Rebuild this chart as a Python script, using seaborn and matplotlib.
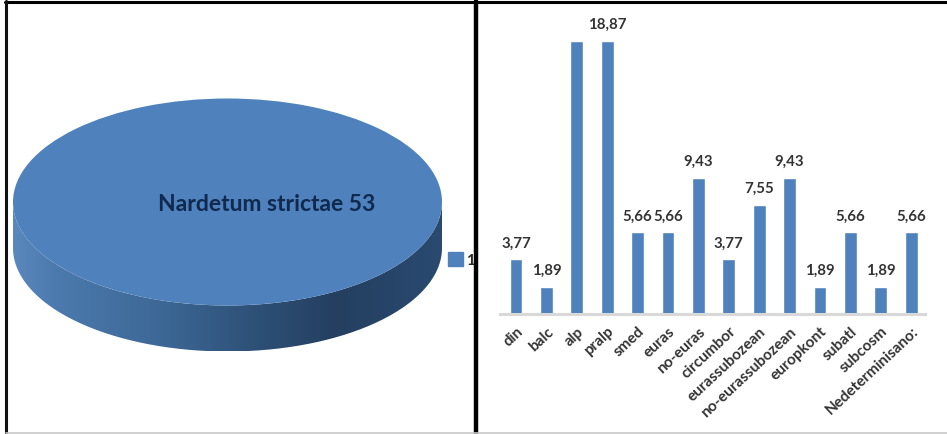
import numpy as np
import matplotlib
matplotlib.use("Agg")
import matplotlib.pyplot as plt
from matplotlib.patches import Rectangle, PathPatch
from matplotlib.path import Path
from matplotlib.colors import LinearSegmentedColormap
from matplotlib.lines import Line2D
import seaborn as sns

categories = ["din", "balc", "alp", "pralp", "smed", "euras", "no-euras", "circumbor",
              "eurassubozean", "no-eurassubozean", "europkont", "subatl", "subcosm",
              "Nedeterminisano:"]
percent = [3.77, 1.89, 18.87, 18.87, 5.66, 5.66, 9.43, 3.77, 7.55, 9.43, 1.89, 5.66, 1.89, 5.66]
value_labels = ["3,77", "1,89", "", "18,87", "5,66", "5,66", "9,43", "3,77", "7,55", "9,43",
                "1,89", "5,66", "1,89", "5,66"]
pie_values = [53]
pie_label = "Nardetum strictae 53"
legend_labels = ["1"]

sns.set_theme(style="white")
plt.rcParams["font.family"] = ["Lato", "DejaVu Sans"]

W, H = 947, 435
BLUE = "#4f81bd"
fig = plt.figure(figsize=(W / 100, H / 100), dpi=100, facecolor="white")

def panel(x0, y0, x1, y1, **kw):
    return fig.add_axes([x0 / W, 1 - y1 / H, (x1 - x0) / W, (y1 - y0) / H], **kw)

# ---- left panel: 3-D looking pie
PX0, PX1, PY0, PY1 = 7, 476, 3, 433
CX, CY, RX, RY = 227.5, 203, 214.5, 103.5
DEPTH = 46 / RY
axp = panel(PX0, PY0, PX1, PY1)
wedges, _ = axp.pie(pie_values, colors=[BLUE], radius=1, startangle=90,
                    wedgeprops=dict(linewidth=0, zorder=3))
axp.set_aspect("auto")
axp.set_xlim((PX0 - CX) / RX, (PX1 - CX) / RX)
axp.set_ylim((CY - PY1) / RY, (CY - PY0) / RY)

t = np.linspace(np.pi, 2 * np.pi, 200)
side_x = np.r_[np.cos(t), np.cos(t[::-1])]
side_y = np.r_[np.sin(t) - DEPTH, np.sin(t[::-1])]
side = PathPatch(Path(np.c_[side_x, side_y]), facecolor="none", edgecolor="none")
axp.add_patch(side)
cmap = LinearSegmentedColormap.from_list(
    "side", [(0, "#5a88bd"), (0.1, "#4c7aae"), (0.35, "#3c6795"), (0.55, "#2f5279"),
             (0.75, "#243f60"), (1, "#2a4a70")])
xlim, ylim = axp.get_xlim(), axp.get_ylim()
img = axp.imshow(np.linspace(0, 1, 256)[None, :], cmap=cmap, extent=(-1, 1, -1 - DEPTH, 0.2),
                 aspect="auto", zorder=2, interpolation="bilinear")
img.set_clip_path(side)
axp.set_xlim(xlim)
axp.set_ylim(ylim)
axp.text(((157 + 377) / 2 - CX) / RX, -0.01, pie_label, ha="center", va="center",
         fontsize=16.5, fontweight="bold", color="#10294f", zorder=5)
leg = axp.legend(handles=[Rectangle((0, 0), 1, 1, color=BLUE)], labels=legend_labels,
                 loc="center left", bbox_to_anchor=((445 - PX0) / (PX1 - PX0), 1 - (260.5 - PY0) / (PY1 - PY0)),
                 frameon=False, handlelength=1.0, handleheight=1.0, handletextpad=0.2,
                 borderpad=0, borderaxespad=0.2, prop=dict(weight="bold", size=11))

# ---- right panel: bar chart
QX0, QX1, QY0, QY1 = 478, 945, 4, 433
X0, STEP, Y0, SCALE = 516, 30.4, 315, 273 / 18.87
axb = panel(QX0, QY0, QX1, QY1, zorder=2)
sns.barplot(x=categories, y=percent, color=BLUE, saturation=1, width=0.42, ax=axb)
axb.set_xlim((QX0 - X0) / STEP, (QX1 - X0) / STEP)
axb.set_ylim((Y0 - QY1) / SCALE, (Y0 - QY0) / SCALE)
axb.bar_label(axb.containers[0], labels=value_labels, padding=7,
              fontsize=10.8, fontweight="bold", color="#333333")
axb.set_yticks([])
axb.set_xlabel("")
axb.set_ylabel("")
for s in ["left", "right", "top"]:
    axb.spines[s].set_visible(False)
sp = axb.spines["bottom"]
sp.set_position(("data", 0))
sp.set_bounds((500 - X0) / STEP, (925 - X0) / STEP)
sp.set_color("#d9d9d9")
sp.set_linewidth(2.2)
axb.set_xticks(range(len(categories)))
axb.set_xticklabels(categories, rotation=43, ha="right", va="top", rotation_mode="anchor",
                    fontsize=11, fontweight="bold", color="#333333")
axb.tick_params(axis="x", length=0, pad=7)

# ---- panel frames
def frame(x0, y0, x1, y1, color, lw):
    fig.add_artist(Line2D([x0 / W, x1 / W], [1 - y0 / H, 1 - y1 / H], color=color, lw=lw,
                          transform=fig.transFigure, zorder=10))

frame(5, 3, W, 3, "black", 2.2)
frame(476, 2, 476, H, "black", 3.2)
frame(6, 2, 6, H, "#111111", 2.2)
frame(6, 433.5, W, 433.5, "#c8c8c8", 1.2)

fig.savefig("out.png", dpi=100, facecolor="white")
